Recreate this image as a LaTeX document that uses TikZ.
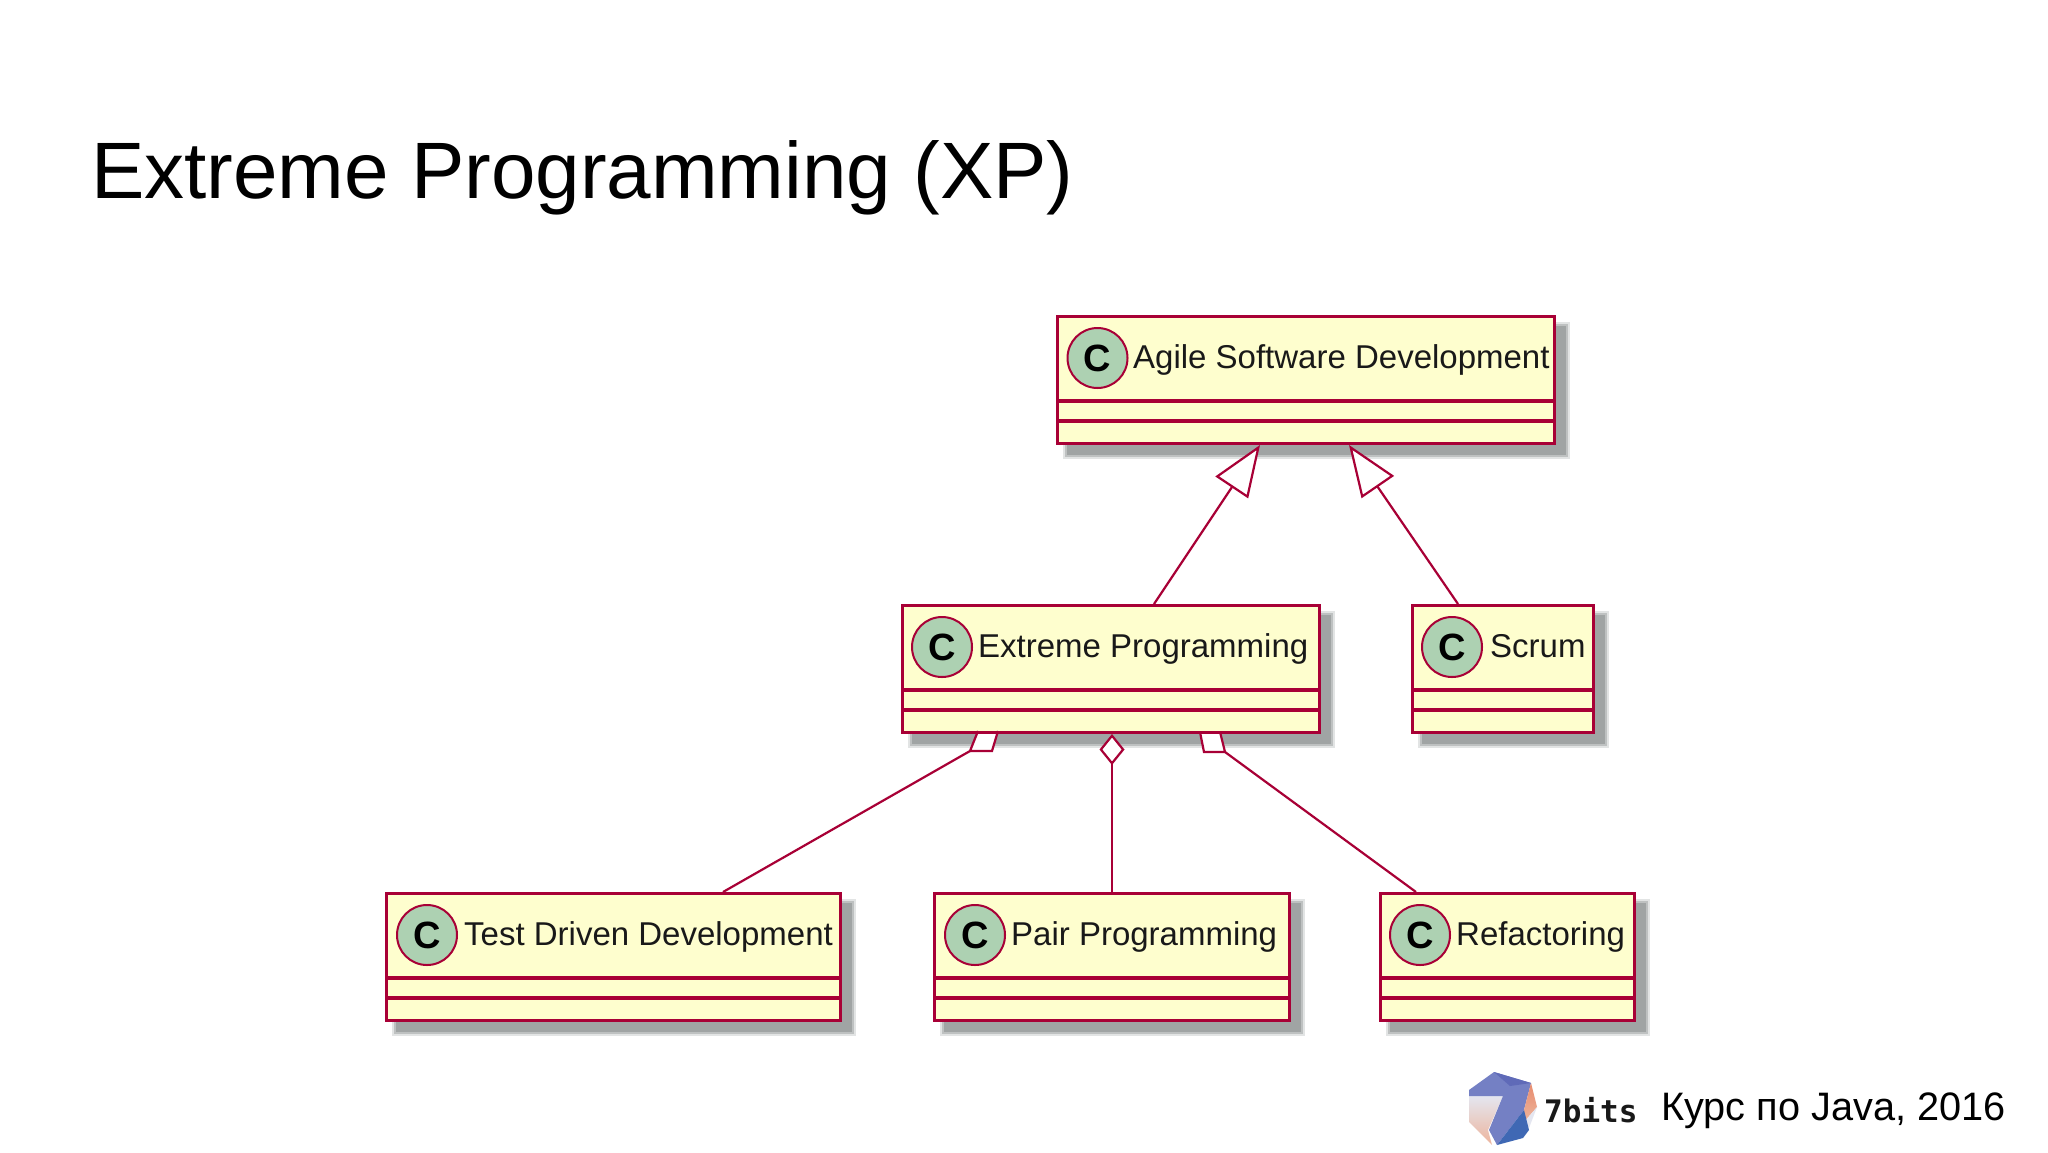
\documentclass[tikz,border=0pt]{standalone}
\usepackage{fontspec}
\setmainfont{Liberation Sans}
\newfontfamily\logofont{DejaVu Sans Mono}
\usetikzlibrary{arrows.meta,calc,shadings}
\definecolor{umlfill}{HTML}{FEFECE}
\definecolor{umlline}{HTML}{A80036}
\definecolor{umlcirc}{HTML}{ADD1B2}
\definecolor{shadowa}{HTML}{A0A4A4}
\definecolor{shadowb}{HTML}{BEC1C1}
\definecolor{shadowc}{HTML}{E2E4E4}
\definecolor{logopurple}{HTML}{7480C4}
\definecolor{logopurpled}{HTML}{5F6AB8}
\definecolor{logoblue}{HTML}{3F68B4}
\definecolor{logoorange}{HTML}{E88C6E}
\definecolor{logopeach}{HTML}{EDB49C}
\definecolor{logopale}{HTML}{E4E6F0}
\tikzset{
  umlbox/.style={draw=umlline,fill=umlfill,line width=3pt,inner sep=0pt,anchor=north west},
  umlcircle/.style={draw=umlline,fill=umlcirc,line width=2pt,circle,minimum size=60pt,inner sep=0pt,font=\fontsize{38}{38}\selectfont\bfseries,text=black},
  umllabel/.style={inner sep=0pt,anchor=base west,font=\fontsize{33}{38}\selectfont,text=black!90},
  umlsep/.style={draw=umlline,line width=3.4pt},
  umledge/.style={draw=umlline,line width=2.2pt},
  titletext/.style={inner sep=0pt,anchor=west,font=\fontsize{80}{90}\selectfont,text=black},
  foottext/.style={inner sep=0pt,anchor=west,font=\fontsize{39.7}{48}\selectfont,text=black}
}
\newcommand{\shadowbox}[3]{%
  \fill[shadowc] (#1+7,#2+7) rectangle (#1+#3+17,#2+127+17);
  \fill[shadowb] (#1+9,#2+9) rectangle (#1+#3+15,#2+127+15);
  \fill[shadowa] (#1+11,#2+11) rectangle (#1+#3+13,#2+127+13);
}
\newcommand{\classbox}[7]{%
  \node[umlbox,minimum width=#4 pt,minimum height=127pt] (#1) at (#2,#3) {};
  \draw[umlsep] ($(#1.north west)+(0,86)$) -- ($(#1.north east)+(0,86)$);
  \draw[umlsep] ($(#1.north west)+(0,106)$) -- ($(#1.north east)+(0,106)$);
  \node[umlcircle] (#1c) at ($(#1.north west)+(#5,43)$) {\raisebox{-2.5pt}{C}};
  \node[umllabel] (#1t) at ($(#1.north west)+(#6,53)$) {#7};
}
\begin{document}
\begin{tikzpicture}[x=1pt,y=-1pt]
\useasboundingbox (0,0) rectangle (2048,1152);
\fill[white] (0,0) rectangle (2048,1152);
\node[titletext] (title) at (91,178) {Extreme Programming (XP)};
% shadows
\shadowbox{1056}{315}{497}
\shadowbox{901}{604}{417}
\shadowbox{1411}{604}{181}
\shadowbox{385}{892}{454}
\shadowbox{933}{892}{355}
\shadowbox{1379}{892}{254}
% aggregation stubs behind the boxes
\coordinate (dlA) at (978,731);
\coordinate (dlB) at (998,731);
\coordinate (dlC) at (992,751);
\coordinate (dlD) at (970,751);
\fill[white] (dlA) -- (dlB) -- (dlC) -- (dlD) -- cycle;
\coordinate (drA) at (1200,732);
\coordinate (drB) at (1220,732);
\coordinate (drC) at (1225,752);
\coordinate (drD) at (1204,752);
\fill[white] (drA) -- (drB) -- (drC) -- (drD) -- cycle;
% boxes
\classbox{agile}{1056}{315}{497}{41.5}{77}{Agile Software Development}
\classbox{xp}{901}{604}{417}{41}{77}{Extreme Programming}
\classbox{scrum}{1411}{604}{181}{41}{79}{Scrum}
\classbox{tdd}{385}{892}{454}{42}{79}{Test Driven Development}
\classbox{pair}{933}{892}{355}{42}{78}{Pair Programming}
\classbox{refac}{1379}{892}{254}{41}{77}{Refactoring}
% generalisation
\coordinate (agileL) at ($(agile.south west)+(204,0)$);
\coordinate (agileR) at ($(agile.south west)+(293,0)$);
\coordinate (xpIn) at ($(xp.north west)+(253,0)$);
\coordinate (scrumIn) at ($(scrum.north west)+(47,0)$);
\draw[umledge,-{Triangle[open,length=51pt,width=39pt,fill=white]}] (xpIn) -- (agileL);
\draw[umledge,-{Triangle[open,length=51pt,width=39pt,fill=white]}] (scrumIn) -- (agileR);
% aggregation
\coordinate (tddIn) at ($(tdd.north west)+(338,0)$);
\coordinate (refacIn) at ($(refac.north west)+(37,0)$);
\draw[umledge] (tddIn) -- (dlD);
\draw[umledge] (dlA) -- (dlD) -- (dlC) -- (dlB);
\draw[umledge] (refacIn) -- (drC);
\draw[umledge] (drA) -- (drD) -- (drC) -- (drB);
\coordinate (xpOut) at (pair.north |- xp.south);
\draw[umledge,{Diamond[open,length=31pt,width=25pt,fill=white]}-] (xpOut) -- (pair.north);
% logo
\shade[top color=logopale,bottom color=logopeach] (1469,1096) -- (1503,1096) -- (1488,1130) -- (1492,1145) -- (1469,1122) -- cycle;
\fill[logopurple] (1469,1090) -- (1494,1072) -- (1531,1083) -- (1524,1110) -- (1497,1145) -- (1489,1130) -- (1503,1096) -- (1469,1096) -- cycle;
\fill[logopurpled] (1494,1072) -- (1531,1083) -- (1510,1086) -- cycle;
\shade[top color=logoorange,bottom color=logopeach] (1531,1083) -- (1537,1107) -- (1524,1122) -- (1524,1110) -- cycle;
\fill[logopale] (1524,1122) -- (1537,1107) -- (1529,1128) -- cycle;
\fill[logoblue] (1524,1110) -- (1529,1130) -- (1523,1138) -- (1497,1145) -- cycle;
\node[inner sep=0pt,anchor=west,font=\logofont\bfseries\fontsize{31}{36}\selectfont,text=black!90] (logotext) at (1544,1110) {7bits};
\node[foottext] (foot) at (1661,1111) {Курс по Java, 2016};
\end{tikzpicture}
\end{document}
